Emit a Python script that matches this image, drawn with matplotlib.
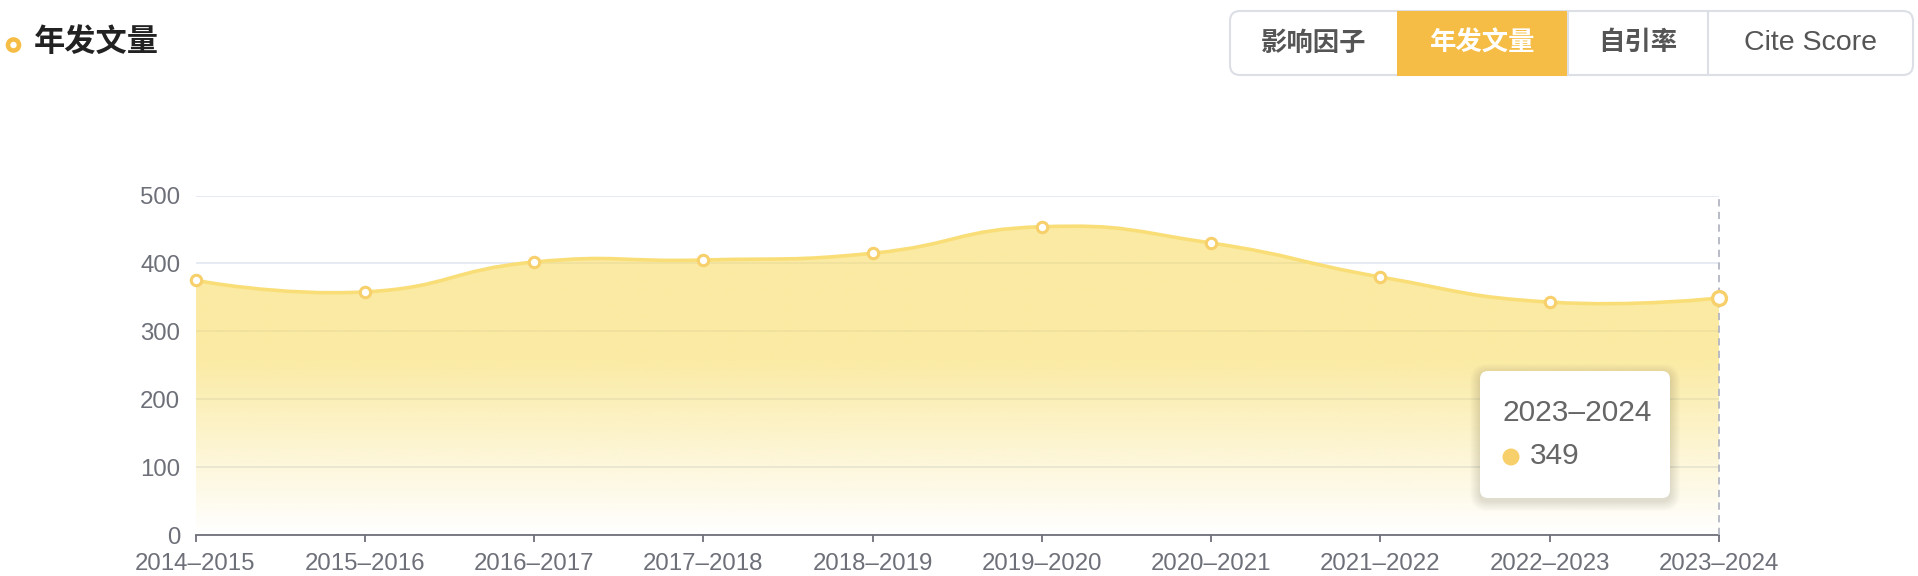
import numpy as np
import matplotlib
matplotlib.use("Agg")
import matplotlib.pyplot as plt
from matplotlib.path import Path
from matplotlib.patches import PathPatch, FancyBboxPatch, Rectangle, Circle
from matplotlib.transforms import IdentityTransform
from matplotlib.lines import Line2D

plt.rcParams['font.family'] = ['Liberation Sans', 'Noto Sans CJK SC', 'DejaVu Sans']

# ---- data ----
categories = ["2014–2015", "2015–2016", "2016–2017", "2017–2018", "2018–2019",
              "2019–2020", "2020–2021", "2021–2022", "2022–2023", "2023–2024"]
values = [375, 358, 402, 405, 415, 454, 430, 380, 343, 349]
y_ticks = [0, 100, 200, 300, 400, 500]
title = "年发文量"
buttons = ["影响因子", "年发文量", "自引率", "Cite Score"]
active_button = 1
tooltip_cat = categories[-1]
tooltip_val = values[-1]

W, H = 1918, 576
fig = plt.figure(figsize=(W / 100, H / 100), dpi=100)
px = IdentityTransform()

def fy(y_top):
    return H - y_top

ax_l, ax_r, ax_t, ax_b = 195.5, 1719, 195.5, 535
ax = fig.add_axes([ax_l / W, (H - ax_b) / H, (ax_r - ax_l) / W, (ax_b - ax_t) / H])
x = np.arange(len(categories))
ax.set_xlim(0, len(categories) - 1)
ax.set_ylim(0, 500)

TXT = '#6E7079'
for s in ['top', 'right', 'left']:
    ax.spines[s].set_visible(False)
ax.spines['bottom'].set_color(TXT)
ax.spines['bottom'].set_linewidth(1.3)
ax.set_xticks(x)
ax.set_xticklabels(categories)
ax.set_yticks(y_ticks)
ax.tick_params(axis='x', colors=TXT, length=5, width=1.3, pad=8, labelsize=17.3)
ax.tick_params(axis='y', colors=TXT, length=0, pad=11, labelsize=17.3)
for lab in ax.get_xticklabels() + ax.get_yticklabels():
    lab.set_color(TXT)
ax.yaxis.grid(True, color='#E0E6F1', lw=1.2)
ax.set_axisbelow(True)

# ---- smooth curve (echarts-style bezier, computed in pixel space) ----
fig.canvas.draw()
pts = ax.transData.transform(np.column_stack([x, values]))
smooth = 0.5
n = len(pts)
verts = [pts[0]]
codes = [Path.MOVETO]
cps_out = {}
cps_in = {}
for i in range(n):
    p = pts[i]
    if i == 0 or i == n - 1:
        cps_out[i] = p
        cps_in[i] = p
        continue
    prev, nxt = pts[i - 1], pts[i + 1]
    v = (nxt - prev) * smooth
    d0 = np.hypot(*(p - prev))
    d1 = np.hypot(*(nxt - p))
    s = d0 + d1
    cps_in[i] = p - v * d0 / s
    cps_out[i] = p + v * d1 / s
for i in range(n - 1):
    verts += [cps_out[i], cps_in[i + 1], pts[i + 1]]
    codes += [Path.CURVE4] * 3
inv = ax.transData.inverted()
verts_d = inv.transform(np.array(verts))
curve = Path(verts_d, codes)

# area path
area_verts = np.vstack([[[0, 0]], verts_d, [[len(categories) - 1, 0]], [[0, 0]]])
area_codes = [Path.MOVETO, Path.LINETO] + codes[1:] + [Path.LINETO, Path.CLOSEPOLY]
area = Path(area_verts, area_codes)
area_patch = PathPatch(area, facecolor='none', edgecolor='none')
ax.add_patch(area_patch)

# gradient
gy = np.linspace(0, 500, 300)
alpha = np.clip(gy / 260.0, 0, 1) * 0.6
grad = np.zeros((len(gy), 2, 4))
grad[..., 0] = 248 / 255
grad[..., 1] = 221 / 255
grad[..., 2] = 102 / 255
grad[..., 3] = alpha[:, None]
im = ax.imshow(grad, extent=[0, len(categories) - 1, 0, 500], origin='lower',
               aspect='auto', interpolation='bilinear', zorder=2)
im.set_clip_path(area_patch)

ax.add_patch(PathPatch(curve, facecolor='none', edgecolor='#F9DE78', lw=2.6, zorder=3,
                       capstyle='round', joinstyle='round'))

# axis pointer
ax.axvline(len(categories) - 1, color='#B3B6C2', lw=1.3, ls=(0, (4, 3)), zorder=4, clip_on=False)

ax.plot(x[:-1], values[:-1], 'o', ms=7.5, mfc='white', mec='#F7D06C', mew=2.2, zorder=5, clip_on=False)
ax.plot(x[-1:], values[-1:], 'o', ms=10, mfc='white', mec='#F7D06C', mew=2.4, zorder=6, clip_on=False)

# ---- title ----
fig.patches.append(Circle((13.5, fy(45)), 7.8, transform=px, facecolor='#F5BD45', edgecolor='none'))
fig.patches.append(Circle((13.5, fy(45)), 3.2, transform=px, facecolor='white', edgecolor='none'))
fig.text(34 / W, fy(43) / H, title, fontsize=22.5, fontweight='bold', color='#222222',
         ha='left', va='center')

# ---- buttons ----
bx0, bx1, by0, by1 = 1230, 1913, 11, 75
seps = [1397, 1568, 1708]
fig.patches.append(FancyBboxPatch((bx0, fy(by1)), bx1 - bx0, by1 - by0,
                                  boxstyle='round,pad=0,rounding_size=10', transform=px,
                                  facecolor='white', edgecolor='#DCDFE6', lw=1.5))
fig.patches.append(Rectangle((seps[0], fy(by1) - 0.5), seps[1] - seps[0], by1 - by0 + 1,
                             transform=px, facecolor='#F5BD45', edgecolor='none'))
for sx in seps[1:]:
    fig.lines.append(Line2D([sx, sx], [fy(by1), fy(by0)], transform=px, color='#DCDFE6', lw=1.5))
edges = [bx0] + seps + [bx1]
for i, b in enumerate(buttons):
    cx = (edges[i] + edges[i + 1]) / 2
    is_latin = b.isascii()
    fig.text(cx / W, fy(43) / H, b, fontsize=20.5 if is_latin else 19,
             fontweight='normal' if is_latin else 'bold',
             color='white' if i == active_button else '#555555', ha='center', va='center')

# ---- tooltip ----
tx0, tx1, ty0, ty1 = 1480, 1670, 371, 498
for k in range(10, 0, -1):
    fig.patches.append(FancyBboxPatch((tx0 - k, fy(ty1) - k - 3), tx1 - tx0 + 2 * k, ty1 - ty0 + 2 * k,
                                      boxstyle='round,pad=0,rounding_size=%d' % (8 + k), transform=px,
                                      facecolor='black', edgecolor='none', alpha=0.012))
fig.patches.append(FancyBboxPatch((tx0, fy(ty1)), tx1 - tx0, ty1 - ty0,
                                  boxstyle='round,pad=0,rounding_size=8', transform=px,
                                  facecolor='white', edgecolor='none'))
fig.text(1502 / W, fy(413) / H, tooltip_cat, fontsize=21.5, color='#666666', ha='left', va='center')
fig.patches.append(Circle((1511, fy(457)), 8.5, transform=px, facecolor='#F7D06C', edgecolor='none'))
fig.text(1530 / W, fy(456) / H, str(tooltip_val), fontsize=21.5, color='#666666', ha='left', va='center')

fig.savefig('out.png', dpi=100)
